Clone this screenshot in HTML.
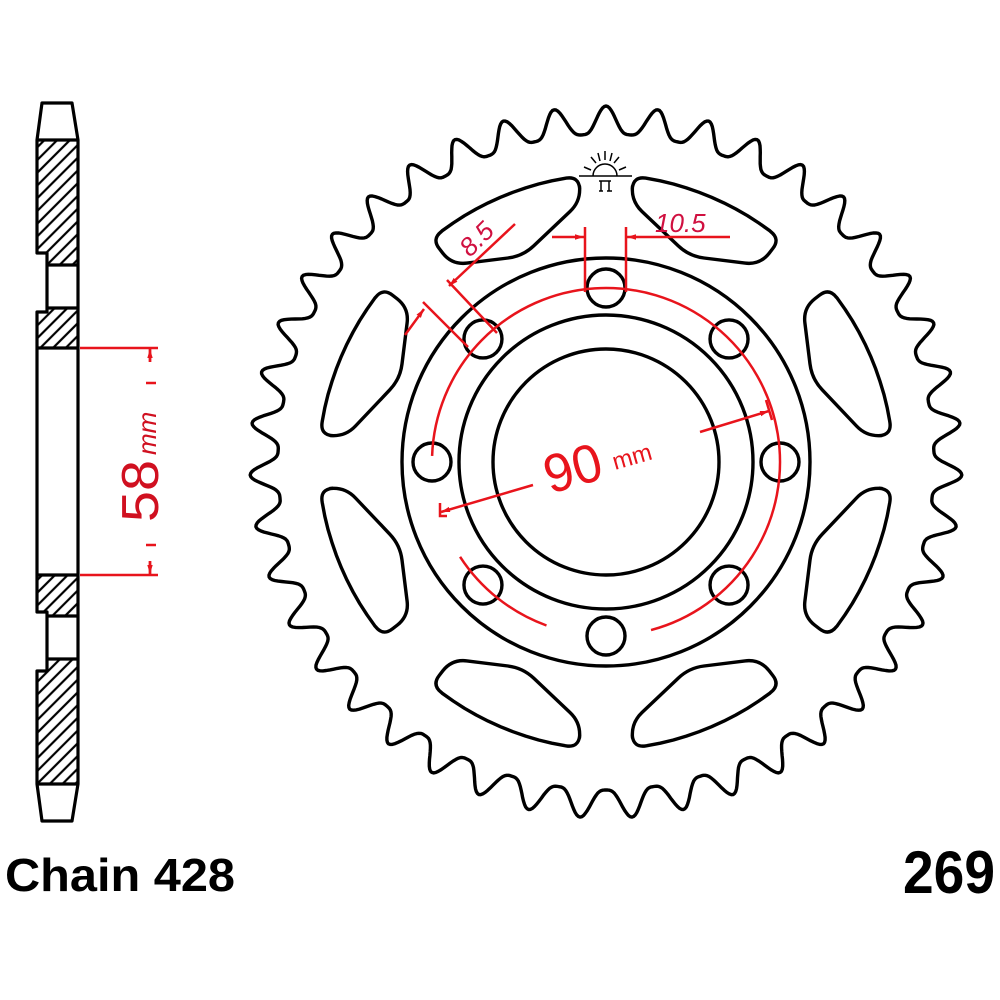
<!DOCTYPE html>
<html><head><meta charset="utf-8"><style>
html,body{margin:0;padding:0;background:#fff;}
svg{display:block;}
</style></head><body>
<svg id="s" width="1000" height="1000" viewBox="0 0 1000 1000" xmlns="http://www.w3.org/2000/svg">
<defs>
<pattern id="h" width="9" height="9" patternUnits="userSpaceOnUse" patternTransform="rotate(-45)">
<rect width="9" height="9" fill="#fff"/><line x1="0" y1="4.5" x2="9" y2="4.5" stroke="#000" stroke-width="2.2"/>
</pattern>
<marker id="ar" viewBox="0 0 10 10" refX="10" refY="5" markerWidth="9" markerHeight="9" orient="auto-start-reverse" markerUnits="userSpaceOnUse"><path d="M0,2 L10,5 L0,8 Z" fill="#e8141c"/></marker>
</defs>
<g id="side" fill="none" stroke="#000" stroke-width="3.2" stroke-linejoin="round">
<rect x="37" y="140" width="41" height="113" fill="url(#h)" stroke="none"/>
<rect x="47" y="253" width="31" height="12" fill="url(#h)" stroke="none"/>
<rect x="37" y="312" width="41" height="36" fill="url(#h)" stroke="none"/>
<rect x="47" y="308" width="31" height="4" fill="url(#h)" stroke="none"/>
<rect x="37" y="575" width="41" height="37" fill="url(#h)" stroke="none"/>
<rect x="47" y="612" width="31" height="4" fill="url(#h)" stroke="none"/>
<rect x="47" y="659" width="31" height="12" fill="url(#h)" stroke="none"/>
<rect x="37" y="671" width="41" height="113" fill="url(#h)" stroke="none"/>
<path d="M42,103 L72,103 L78,140 L78,784 L72,821 L42,821 L37,784 L37,671 L47,671 L47,612 L37,612 L37,312 L47,312 L47,253 L37,253 L37,140 Z"/>
<path d="M37,140 H78 M47,265 H78 M47,308 H78 M37,348 H78 M37,575 H78 M47,616 H78 M47,659 H78 M37,784 H78"/>
</g>
<g stroke="#e8141c" stroke-width="2.5" fill="none">
<path d="M80,348 H158 M80,575 H158"/>
<line x1="150" y1="362" x2="150" y2="349" marker-end="url(#ar)"/>
<line x1="150" y1="561" x2="150" y2="574" marker-end="url(#ar)"/>
<path d="M150,348 V362 M150,561 V575 M146,383 H156 M146,545 H156"/>
</g>
<text transform="translate(158,522) rotate(-90)" font-family="Liberation Sans, sans-serif" font-size="52" fill="#d01020" textLength="62" lengthAdjust="spacingAndGlyphs">58</text>
<text transform="translate(156,455) rotate(-90)" font-family="Liberation Sans, sans-serif" font-size="26" font-style="italic" fill="#d01020">mm</text>
<g id="spr" fill="none" stroke="#000" stroke-width="3.4" stroke-linejoin="round"></g>
<g id="red" stroke="#e8141c" stroke-width="2.5" fill="none"></g>
<g id="logo" stroke="#000" stroke-width="1.5" fill="none">
<path d="M579,176 H632"/>
<path d="M593,176 A12,12 0 0 1 617,176"/>
<path d="M605,160 V151 M596,163 L591,157 M614,163 L619,157 M591,170 L584,167 M619,170 L626,167 M600,161 L598,153 M610,161 L612,153"/>
<path d="M599,181 H611 M601,181 V191 M609,181 V191 M599,191 H603 M607,191 H612"/>
</g>
<text x="5" y="891" font-family="Liberation Sans, sans-serif" font-weight="bold" font-size="46" textLength="230" lengthAdjust="spacingAndGlyphs">Chain 428</text>
<text x="903" y="893" font-family="Liberation Sans, sans-serif" font-weight="bold" font-size="60" textLength="92" lengthAdjust="spacingAndGlyphs">269</text>
<text x="655" y="232" font-family="Liberation Sans, sans-serif" font-style="italic" font-size="26" fill="#d01040">10.5</text>
<text transform="translate(470,258) rotate(-45)" font-family="Liberation Sans, sans-serif" font-style="italic" font-size="26" fill="#d01040">8.5</text>
<text transform="translate(550,494) rotate(-16)" font-family="Liberation Sans, sans-serif" font-size="54" fill="#e8141c" textLength="58" lengthAdjust="spacingAndGlyphs">90</text>
<text transform="translate(615,470) rotate(-16)" font-family="Liberation Sans, sans-serif" font-size="24" fill="#e8141c">mm</text>
</svg>
<script>
(function(){
var NS="http://www.w3.org/2000/svg",cx=606,cy=462;
function P(a,r){var t=(a-90)*Math.PI/180;return [cx+r*Math.cos(t),cy+r*Math.sin(t)];}
function el(g,tag,at){var e=document.createElementNS(NS,tag);for(var k in at)e.setAttribute(k,at[k]);document.getElementById(g).appendChild(e);return e;}
var N=43,S=30,Rt=356,Rr=328,d="";
for(var i=0;i<N*S;i++){var ph=i/S;var t=ph-Math.round(ph);var g=0.5+0.5*Math.cos(2*Math.PI*t);var f=Math.pow(g,1.6);
var p=P(ph*360/N,Rr+(Rt-Rr)*f);d+=(i?"L":"M")+p[0].toFixed(1)+","+p[1].toFixed(1);}
el("spr","path",{d:d+"Z"});
[204,147,113].forEach(function(r){el("spr","circle",{cx:cx,cy:cy,r:r});});
for(var k=0;k<8;k++){var p=P(k*45,174);el("spr","circle",{cx:p[0],cy:p[1],r:19});}
function rounded(pts,rads){var n=pts.length,s="";
for(var i=0;i<n;i++){var a=pts[(i-1+n)%n],b=pts[i],c=pts[(i+1)%n];
var l1=Math.hypot(b[0]-a[0],b[1]-a[1]),l2=Math.hypot(c[0]-b[0],c[1]-b[1]);var dd=Math.min(rads[i],l1*0.9,l2*0.9);
if(dd<=0){s+=(i?"L":"M")+b[0].toFixed(1)+","+b[1].toFixed(1);continue;}
var p1=[b[0]+(a[0]-b[0])*dd/l1,b[1]+(a[1]-b[1])*dd/l1],p2=[b[0]+(c[0]-b[0])*dd/l2,b[1]+(c[1]-b[1])*dd/l2];
s+=(i?"L":"M")+p1[0].toFixed(1)+","+p1[1].toFixed(1)+"Q"+b[0].toFixed(1)+","+b[1].toFixed(1)+" "+p2[0].toFixed(1)+","+p2[1].toFixed(1);}
return s+"Z";}
for(var k=0;k<8;k++){var base=90*Math.floor(k/2),odd=k%2;
function A(a){return odd?base+90-a:base+a;}
var pol=[],rads=[];
for(var j=0;j<=12;j++){var a=5.5+(38-5.5)*j/12;pol.push(P(A(a),287-4*j/12));rads.push((j==0||j==12)?15:0);}
pol.push(P(A(38),250));rads.push(15);
pol.push(P(A(22),222));rads.push(15);
pol.push(P(A(5.5),262));rads.push(15);
el("spr","path",{d:rounded(pol,rads)});}
function arc(a1,a2,r,large){var p=P(a1,r),q=P(a2,r);return "M"+p[0]+","+p[1]+"A"+r+","+r+" 0 "+large+" 1 "+q[0]+","+q[1];}
el("red","path",{d:arc(272,165,174,1)});
el("red","path",{d:arc(200,237,174,0)});
el("red","line",{x1:533,y1:485,x2:441,y2:512,"marker-end":"url(#ar)"});
el("red","line",{x1:700,y1:432,x2:769,y2:411,"marker-end":"url(#ar)"});
el("red","path",{d:"M440,503 V516 H447 M766,400 L772,420"});
el("red","path",{d:"M585,227 V292 M626,227 V292"});
el("red","line",{x1:552,y1:237,x2:584,y2:237,"marker-end":"url(#ar)"});
el("red","line",{x1:730,y1:237,x2:627,y2:237,"marker-end":"url(#ar)"});
el("red","path",{d:"M447,280 L497,333 M423,302 L468,347"});
el("red","line",{x1:515,y1:224,x2:449,y2:286,"marker-end":"url(#ar)"});
el("red","line",{x1:405,y1:335,x2:424,y2:309,"marker-end":"url(#ar)"});
})();
</script>
</body></html>
